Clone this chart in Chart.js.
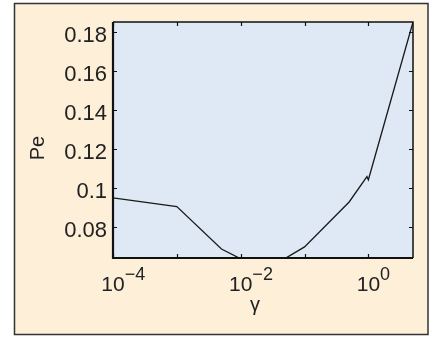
<!DOCTYPE html>
<html>
<head>
<meta charset="utf-8">
<script src="https://cdn.jsdelivr.net/npm/chart.js@4"></script>
<style>
  html, body { margin: 0; padding: 0; background: #ffffff; }
  #wrap { width: 430px; height: 337px; }
</style>
</head>
<body>
<div id="wrap"><canvas id="pe-chart" width="430" height="337"></canvas></div>
<script>
// values
const gammaValues = [1e-4, 1e-3, 5e-3, 1e-2, 2e-2, 5e-2, 1e-1, 5e-1, 0.95, 1.0, 5];
const peValues = [0.0949, 0.0904, 0.0686, 0.0636, 0.0615, 0.0638, 0.0697, 0.0928, 0.1058, 0.1042, 0.1853];
const yTicks = [0.08, 0.10, 0.12, 0.14, 0.16, 0.18];
const xTicks = [1e-4, 1e-3, 1e-2, 1e-1, 1e0];
const xTickLabels = ['−4', null, '−2', null, '0'];

const font = '"Liberation Sans", Arial, sans-serif';
const textColor = '#222';

const framePlugin = {
    id: 'frame',
    beforeDraw: chart => {
        const ctx = chart.ctx;
        const a = chart.chartArea;
        ctx.save();
        ctx.fillStyle = '#ffffff';
        ctx.fillRect(0, 0, chart.width, chart.height);
        ctx.fillStyle = '#fdefd8';
        ctx.fillRect(14, 3, 414, 331);
        ctx.strokeStyle = '#333';
        ctx.lineWidth = 1.5;
        ctx.strokeRect(14.5, 3.5, 413.5, 331);
        ctx.fillStyle = '#dee9f5';
        ctx.fillRect(a.left, a.top, a.right - a.left, a.bottom - a.top);
        ctx.restore();
    },
    afterDraw: chart => {
        const ctx = chart.ctx;
        const a = chart.chartArea;
        const x = chart.scales.x;
        const y = chart.scales.y;
        ctx.save();
        ctx.strokeStyle = '#111';
        // box
        ctx.lineWidth = 1.5;
        ctx.beginPath();
        ctx.moveTo(a.left, a.top);
        ctx.lineTo(a.right, a.top);
        ctx.lineTo(a.right, a.bottom);
        ctx.stroke();
        ctx.lineWidth = 2.2;
        ctx.beginPath();
        ctx.moveTo(a.left, a.top);
        ctx.lineTo(a.left, a.bottom);
        ctx.lineTo(a.right, a.bottom);
        ctx.stroke();
        // inner ticks
        ctx.lineWidth = 1.2;
        ctx.beginPath();
        yTicks.forEach(v => {
            const py = Math.round(y.getPixelForValue(v)) + 0.5;
            ctx.moveTo(a.left, py); ctx.lineTo(a.left + 4, py);
            ctx.moveTo(a.right, py); ctx.lineTo(a.right - 4, py);
        });
        xTicks.forEach(v => {
            const px = Math.round(x.getPixelForValue(v)) + 0.5;
            ctx.moveTo(px, a.bottom); ctx.lineTo(px, a.bottom - 4);
            ctx.moveTo(px, a.top); ctx.lineTo(px, a.top + 4);
        });
        ctx.stroke();
        // x tick labels 10^n
        ctx.fillStyle = textColor;
        ctx.textBaseline = 'alphabetic';
        xTicks.forEach((v, i) => {
            if (!xTickLabels[i]) return;
            const px = x.getPixelForValue(v);
            ctx.font = '21px ' + font;
            ctx.textAlign = 'center';
            ctx.fillText('10', px, 291);
            const w = ctx.measureText('10').width;
            ctx.font = '18px ' + font;
            ctx.textAlign = 'left';
            ctx.fillText(xTickLabels[i], px + w / 2, 280);
        });
        // axis titles
        ctx.font = '20px ' + font;
        ctx.textAlign = 'center';
        ctx.fillText('γ', 255, 311);
        ctx.translate(44, 148);
        ctx.rotate(-Math.PI / 2);
        ctx.fillText('Pe', 0, 0);
        ctx.restore();
    }
};

new Chart(document.getElementById('pe-chart'), {
    type: 'line',
    data: {
        labels: gammaValues,
        datasets: [{
            label: 'Pe',
            data: gammaValues.map((g, i) => ({ x: g, y: peValues[i] })),
            borderColor: '#1a1a1a',
            borderWidth: 1.3,
            pointRadius: 0,
            tension: 0,
            fill: false
        }]
    },
    options: {
        responsive: false,
        animation: false,
        devicePixelRatio: 1,
        layout: { padding: { left: 0, top: 22, right: 17, bottom: 0 } },
        plugins: { legend: { display: false }, tooltip: { enabled: false } },
        scales: {
            x: {
                type: 'logarithmic',
                min: 1e-4,
                max: 5,
                grid: { display: false, drawTicks: false },
                border: { display: false },
                ticks: { display: false },
                afterBuildTicks: scale => { scale.ticks = xTicks.map(v => ({ value: v })); },
                afterFit: scale => { scale.height = 79; }
            },
            y: {
                type: 'linear',
                min: 0.064,
                max: 0.1853,
                grid: { display: false, drawTicks: false },
                border: { display: false },
                ticks: {
                    color: textColor,
                    font: { family: font, size: 22 },
                    padding: 6,
                    labelOffset: 4,
                    callback: v => String(+(+v).toFixed(2))
                },
                afterBuildTicks: scale => { scale.ticks = yTicks.map(v => ({ value: v })); },
                afterFit: scale => { scale.width = 113; }
            }
        }
    },
    plugins: [framePlugin]
});
</script>
</body>
</html>
